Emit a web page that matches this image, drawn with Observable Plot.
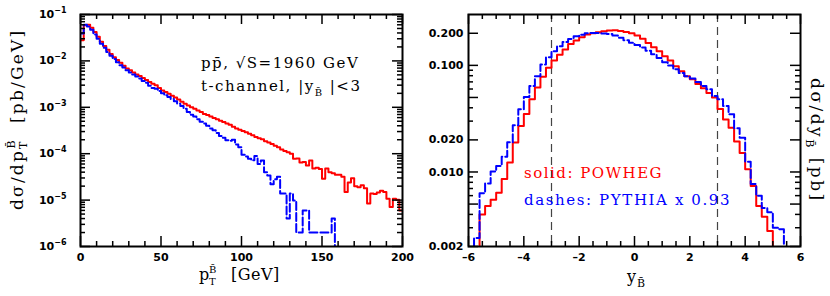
<!DOCTYPE html>
<html><head><meta charset="utf-8">
<script src="https://cdn.jsdelivr.net/npm/d3@7"></script>
<script src="https://cdn.jsdelivr.net/npm/@observablehq/plot@0.6"></script>
<style>
body{margin:0;background:#fff}
#wrap{position:relative;width:830px;height:296px;background:#fff}
#wrap svg{position:absolute;top:0}
</style></head><body><div id="wrap"></div>
<script>
// ---------- Left panel: d sigma / d pT (pb/GeV), 2 GeV bins starting at 0 ----------
const ptBinStart = 0, ptBinWidth = 2;
const ptPowheg = [
 0.028, 0.059, 0.060, 0.052, 0.042, 0.033, 0.026, 0.021, 0.0174, 0.0141,
 0.0120, 0.0105, 0.0091, 0.0079, 0.0069, 0.0063, 0.0056, 0.0051, 0.0047, 0.0043,
 0.0039, 0.0035, 0.0032, 0.0030, 0.0026, 0.0023, 0.00214, 0.00195, 0.00178, 0.00162,
 0.00148, 0.00132, 0.00120, 0.00110, 0.00100, 0.00093, 0.00085, 0.00079, 0.00072, 0.00068,
 0.00063, 0.00059, 0.00055, 0.00051, 0.00048, 0.00045, 0.00042, 0.00038, 0.00035, 0.00033,
 0.00031, 0.00029, 0.00027, 0.00025, 0.00023, 0.000214, 0.000204, 0.000186, 0.000174, 0.000162,
 0.000148, 0.000138, 0.000123, 0.000115, 0.000107, 0.000100, 7.8e-5, 7.9e-5, 6.5e-5, 6.6e-5,
 5.6e-5, 7.1e-5, 4.8e-5, 5.0e-5, 4.7e-5, 2.9e-5, 4.8e-5, 4.0e-5, 3.8e-5, 3.5e-5,
 3.5e-5, 3.2e-5, 1.5e-5, 2.4e-5, 2.95e-5, 2.0e-5, 1.9e-5, 2.1e-5, 1.8e-5, 8.5e-6,
 1.38e-5, 1.35e-5, 1.45e-5, 1.6e-5, 1.5e-5, 1.07e-5, 7.1e-6, 1.07e-5, 1.02e-5, 6.0e-6
];
const ptPythia = [
 0.039, 0.060, 0.055, 0.047, 0.037, 0.030, 0.0234, 0.0191, 0.0155, 0.0129,
 0.0110, 0.0093, 0.0081, 0.0072, 0.0063, 0.0056, 0.0051, 0.0046, 0.0042, 0.0037,
 0.0034, 0.0029, 0.0026, 0.0025, 0.00224, 0.0020, 0.00182, 0.00166, 0.00151, 0.00135,
 0.00120, 0.00107, 0.00093, 0.00079, 0.00069, 0.00063, 0.00055, 0.00049, 0.00045, 0.00040,
 0.00035, 0.00032, 0.00028, 0.00024, 0.00022, 0.000195, 0.00019, 0.000200, 0.000158, 0.000138,
 9.5e-5, 8.7e-5, 7.8e-5, 7.2e-5, 8.9e-5, 6.0e-5, 7.1e-5, 4.0e-5, 3.4e-5, 2.2e-5,
 2.8e-5, 3.2e-5, 1.38e-5, 1.38e-5, 4.0e-6, 1.38e-5, 9.8e-6, 2.0e-6, 2.0e-6, 6.0e-6,
 6.0e-6, 2.0e-6, 2.0e-6, 2.0e-6, 2.0e-6, 2.0e-6, 2.0e-6, 2.0e-6, 4.0e-6
];
const ptDomain = [0, 200];
const ptSigDomain = [1e-6, 1e-1];
const ptTicksMajor = [0, 50, 100, 150, 200];
const ptTicksMinor = [10,20,30,40,60,70,80,90,110,120,130,140,160,170,180,190];
const ptSigTicksMajor = [1e-6, 1e-5, 1e-4, 1e-3, 1e-2, 1e-1];
const ptSigTicksMinor = [1e-6,1e-5,1e-4,1e-3,1e-2].flatMap(d => [2,3,4,5,6,7,8,9].map(k => k*d));

// ---------- Right panel: d sigma / d y (pb), 0.2 bins ----------
const yBinWidth = 0.2;
const yPowhegStart = -5.6;
const yPowheg = [
 0.0040, 0.0048, 0.0055, 0.0064, 0.0086, 0.0123,
 0.0189, 0.027, 0.035, 0.048, 0.062, 0.078, 0.095, 0.111,
 0.126, 0.141, 0.159, 0.171, 0.184, 0.195, 0.200, 0.205, 0.209, 0.212,
 0.213, 0.210, 0.206, 0.200, 0.191,
 0.178, 0.162, 0.148, 0.136, 0.122, 0.111, 0.098, 0.088, 0.079, 0.074,
 0.067, 0.061, 0.055, 0.050, 0.039, 0.031, 0.026, 0.0193, 0.0151,
 0.0106, 0.0074, 0.0048, 0.0038, 0.0028
];
const yPythiaStart = -5.8;
const yPythia = [
 0.0024, 0.0063, 0.0078, 0.0101, 0.0114, 0.0139, 0.0190, 0.0274, 0.0387, 0.0505,
 0.064, 0.079, 0.102, 0.119, 0.136, 0.151, 0.166, 0.177, 0.188, 0.194,
 0.200, 0.201, 0.201, 0.199, 0.197, 0.191, 0.182, 0.172, 0.163, 0.155,
 0.147, 0.137, 0.127, 0.117, 0.107, 0.0997, 0.092, 0.085, 0.079, 0.0755,
 0.0697, 0.064, 0.0596, 0.0515, 0.048, 0.0416, 0.0348, 0.0257, 0.021, 0.0125,
 0.0077, 0.0060, 0.0046, 0.0042, 0.0030, 0.0029
];
const yDomain = [-6, 6];
const ySigDomain = [0.002, 0.3];
const yTicksMajor = [-6, -4, -2, 0, 2, 4, 6];
const yTicksMinor = [-5.5,-5,-4.5,-3.5,-3,-2.5,-1.5,-1,-0.5,0.5,1,1.5,2.5,3,3.5,4.5,5,5.5];
const ySigTicksMajor = [0.002, 0.005, 0.01, 0.02, 0.05, 0.1, 0.2];
const ySigTicksMinor = [0.003,0.004,0.006,0.007,0.008,0.009,0.03,0.04,0.06,0.07,0.08,0.09];
const yCut = [-3, 3];

const RED = "#ff0000", BLUE = "#0000ff";

function steps(start, width, vals, floorStart, floorEnd) {
  const pts = [];
  if (floorStart != null) pts.push({x: start, y: floorStart});
  vals.forEach((v, i) => pts.push({x: start + i * width, y: v}));
  pts.push({x: start + vals.length * width, y: floorEnd != null ? floorEnd : vals[vals.length - 1]});
  return pts;
}

function frameTicks(xMaj, xMin, yMaj, yMin, fw, fh) {
  const L = 10, S = 5, o = {stroke: "black", strokeWidth: 1.5};
  return [
    Plot.tickX(xMaj, {x: d => d, insetTop: fh - L, ...o}),
    Plot.tickX(xMaj, {x: d => d, insetBottom: fh - L, ...o}),
    Plot.tickX(xMin, {x: d => d, insetTop: fh - S, ...o}),
    Plot.tickX(xMin, {x: d => d, insetBottom: fh - S, ...o}),
    Plot.tickY(yMaj, {y: d => d, insetRight: fw - L, ...o}),
    Plot.tickY(yMaj, {y: d => d, insetLeft: fw - L, ...o}),
    Plot.tickY(yMin, {y: d => d, insetRight: fw - S, ...o}),
    Plot.tickY(yMin, {y: d => d, insetLeft: fw - S, ...o})
  ];
}

const axisFont = {fontFamily: "DejaVu Sans", fontSize: "11px", fontWeight: "bold", background: "white"};

const left = Plot.plot({
  width: 415, height: 296,
  marginLeft: 80, marginRight: 13, marginTop: 14, marginBottom: 50,
  x: {domain: ptDomain},
  y: {type: "log", domain: ptSigDomain},
  style: axisFont,
  marks: [
    Plot.line(steps(ptBinStart, ptBinWidth, ptPowheg), {x: "x", y: "y", curve: "step-after", stroke: RED, strokeWidth: 2, clip: true}),
    Plot.line(steps(ptBinStart, ptBinWidth, ptPythia, null, ptSigDomain[0]), {x: "x", y: "y", curve: "step-after", stroke: BLUE, strokeWidth: 2, strokeDasharray: "8,3", clip: true}),
    ...frameTicks(ptTicksMajor, ptTicksMinor, ptSigTicksMajor, ptSigTicksMinor, 322, 232),
    Plot.frame({stroke: "black", strokeWidth: 2}),
    Plot.axisX(ptTicksMajor, {tickSize: 0, tickPadding: 7, label: null}),
    Plot.axisY(ptSigTicksMajor, {tickSize: 0, tickPadding: 14, label: null,
      tickFormat: d => "10^" + Math.round(Math.log10(d))})
  ]
});

const right = Plot.plot({
  width: 415, height: 296,
  marginLeft: 53, marginRight: 30, marginTop: 14, marginBottom: 50,
  x: {domain: yDomain},
  y: {type: "log", domain: ySigDomain},
  style: axisFont,
  marks: [
    Plot.ruleX(yCut, {x: d => d, stroke: "#444", strokeWidth: 1.2, strokeDasharray: "8,5"}),
    Plot.line(steps(yPowhegStart, yBinWidth, yPowheg, ySigDomain[0], ySigDomain[0]), {x: "x", y: "y", curve: "step-after", stroke: RED, strokeWidth: 2, clip: true}),
    Plot.line(steps(yPythiaStart, yBinWidth, yPythia, ySigDomain[0], ySigDomain[0]), {x: "x", y: "y", curve: "step-after", stroke: BLUE, strokeWidth: 2, strokeDasharray: "8,3", clip: true}),
    ...frameTicks(yTicksMajor, yTicksMinor, ySigTicksMajor, ySigTicksMinor, 332, 232),
    Plot.frame({stroke: "black", strokeWidth: 2}),
    Plot.axisX(yTicksMajor, {tickSize: 0, tickPadding: 7, label: null,
      tickFormat: d => d < 0 ? "\u2013" + (-d) : String(d)}),
    Plot.axisY(ySigTicksMajor, {tickSize: 0, tickPadding: 5, label: null, tickFormat: d3.format(".3f")})
  ]
});

const wrap = document.getElementById("wrap");
left.style.left = "0px";
right.style.left = "415px";
wrap.appendChild(left);
wrap.appendChild(right);

// superscript exponents on left y labels
d3.select(left).selectAll("text").each(function () {
  const t = this.textContent;
  if (t.startsWith("10^")) {
    const e = t.slice(3).replace("-", "\u2212");
    const s = d3.select(this);
    s.text(null);
    s.append("tspan").text("10");
    s.append("tspan").attr("dy", -5).style("font-size", "8px").text(e);
  }
});

function txt(svg, x, y, size, ls, fill, transform) {
  const t = d3.select(svg).append("text").attr("x", x).attr("y", y)
    .attr("text-anchor", "start").style("text-anchor", "start")
    .style("font-family", "DejaVu Serif").style("font-size", size + "px")
    .style("font-weight", "normal").style("letter-spacing", ls + "px")
    .style("white-space", "pre").attr("fill", fill || "black");
  if (transform) t.attr("transform", transform);
  return t;
}

// left annotations
txt(left, 201, 68, 15, 1.5).text("pp\u0304, \u221AS=1960 GeV");
{
  const t = txt(left, 201, 91, 15, 1.5);
  t.append("tspan").text("t-channel, |y");
  t.append("tspan").attr("dy", 5).style("font-size", "10px").text("B\u0304");
  t.append("tspan").attr("dy", -5).text(" |<3");
}
// left x label
txt(left, 199, 280, 16, 0.5).text("p");
txt(left, 209, 273, 10, 0).text("B\u0304");
txt(left, 209, 285, 10, 0).text("T");
txt(left, 231, 280, 16, 0.5).text("[GeV]");
// left y label
{
  const t = txt(left, 0, 0, 17, 2.2, "black", "translate(23,210) rotate(-90)");
  t.append("tspan").text("d\u03C3/dp");
  t.append("tspan").attr("dy", 4).style("font-size", "11px").text("T");
  t.append("tspan").attr("dx", -9).attr("dy", -12).style("font-size", "11px").text("B\u0304");
  t.append("tspan").attr("dy", 8).text("  [pb/GeV]");
}

// right annotations
txt(right, 109, 178, 15, 1.5, RED).text("solid: POWHEG");
txt(right, 109, 205, 15, 1.6, BLUE).text("dashes: PYTHIA x 0.93");
// right x label
txt(right, 212, 282, 16, 0).text("y");
txt(right, 222, 287, 11, 0).text("B\u0304");
// right y label
{
  const t = txt(right, 0, 0, 17, 2.5, "black", "translate(396,78) rotate(90)");
  t.append("tspan").text("d\u03C3/dy");
  t.append("tspan").attr("dy", 5).style("font-size", "11px").text("B\u0304");
  t.append("tspan").attr("dy", -5).text(" [pb]");
}
</script></body></html>
